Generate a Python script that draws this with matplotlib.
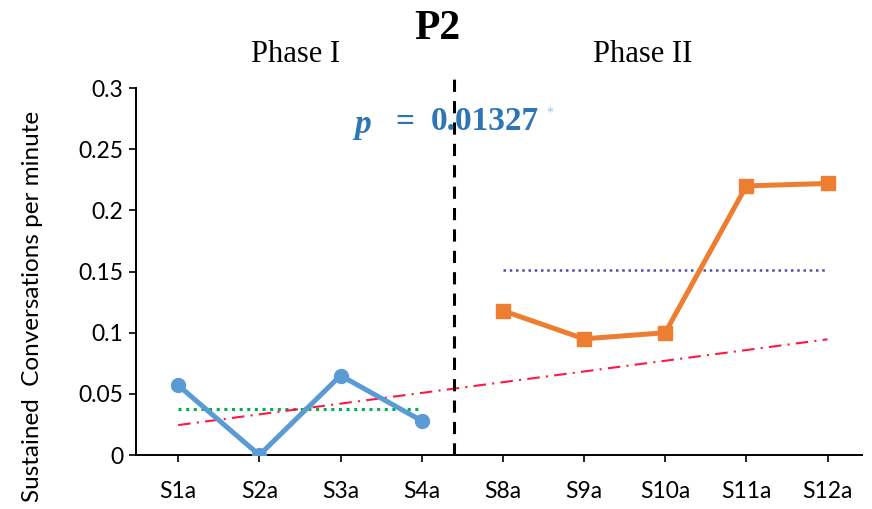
import matplotlib.pyplot as plt
import numpy as np

# sessions and values
sessions = ["S1a", "S2a", "S3a", "S4a", "S8a", "S9a", "S10a", "S11a", "S12a"]
phase1_vals = [0.057, 0.0, 0.065, 0.028]
phase2_vals = [0.118, 0.095, 0.100, 0.220, 0.222]
phase1_mean = 0.0375
phase2_mean = 0.151
trend_start, trend_end = 0.0245, 0.0946
yticks = [0, 0.05, 0.1, 0.15, 0.2, 0.25, 0.3]
ytick_labels = ["0", "0.05", "0.1", "0.15", "0.2", "0.25", "0.3"]
phase_split = 3.4
p_value = "0.01327"

blue = "#5B9BD5"
orange = "#ED7D31"

fig = plt.figure(figsize=(8.72, 5.09), dpi=100)
ax = fig.add_axes([0.156, 0.106, 0.833, 0.721])

x = np.arange(len(sessions))
x1 = x[:len(phase1_vals)]
x2 = x[len(phase1_vals):]

# mean lines and trend
ax.plot([x1[0], x1[-1]], [phase1_mean] * 2, color="#00B050", ls=(0, (1, 1.5)), lw=2.2, zorder=2)
ax.plot([x2[0], x2[-1]], [phase2_mean] * 2, color="#4F4FA8", ls=(0, (1, 1.5)), lw=1.8, zorder=2)
ax.plot([x[0], x[-1]], [trend_start, trend_end], color="#FF1744", ls=(0, (6, 3, 1, 3)), lw=1.5, zorder=2)

ax.plot(x1, phase1_vals, color=blue, lw=3.6, marker="o", ms=10, zorder=3)
ax.plot(x2, phase2_vals, color=orange, lw=3.6, marker="s", ms=9.5, zorder=3)

# phase separator
ax.plot([phase_split, phase_split], [0, 0.309], color="black", ls=(0, (4, 3)), lw=2.2,
        clip_on=False, zorder=4)

ax.set_xlim(-0.52, 8.43)
ax.set_ylim(0, 0.3)
ax.set_xticks(x)
ax.set_xticklabels(sessions, fontfamily="Lato", fontsize=16.5)
ax.set_yticks(yticks)
ax.set_yticklabels(ytick_labels, fontfamily="Lato", fontsize=16.5)
ax.tick_params(axis="x", length=5, width=1.2, pad=14)
ax.tick_params(axis="y", length=5, width=1.2, pad=4)
for s in ["top", "right"]:
    ax.spines[s].set_visible(False)
for s in ["left", "bottom"]:
    ax.spines[s].set_linewidth(1.4)

ax.set_ylabel("Sustained  Conversations per minute", fontfamily="Lato", fontsize=17.5)
ax.yaxis.set_label_coords(-0.128, 0.405)

# headings
fig.text(437 / 872, 1 - 29 / 509, "P2", fontfamily="Liberation Serif", fontweight="bold",
         fontsize=30, ha="center", va="center")
fig.text(296 / 872, 1 - 55 / 509, "Phase I", fontfamily="Liberation Serif", fontsize=22,
         ha="center", va="center")
fig.text(643 / 872, 1 - 55 / 509, "Phase II", fontfamily="Liberation Serif", fontsize=22,
         ha="center", va="center")

pblue = "#2E75B6"
fig.text(354 / 872, 1 - 124 / 509, "p", fontfamily="Liberation Serif", fontweight="bold",
         fontstyle="italic", fontsize=24, color=pblue, ha="left", va="center")
fig.text(405 / 872, 1 - 122 / 509, "=", fontfamily="Liberation Serif", fontweight="bold",
         fontsize=24, color=pblue, ha="center", va="center")
fig.text(431 / 872, 1 - 122 / 509, p_value, fontfamily="Liberation Serif", fontweight="bold",
         fontsize=24, color=pblue, ha="left", va="center")
fig.text(546 / 872, 1 - 113 / 509, "*", fontfamily="Liberation Serif", fontsize=10,
         color="#9DC3E6", ha="left", va="center")

fig.savefig("out.png", dpi=100, facecolor="white")
